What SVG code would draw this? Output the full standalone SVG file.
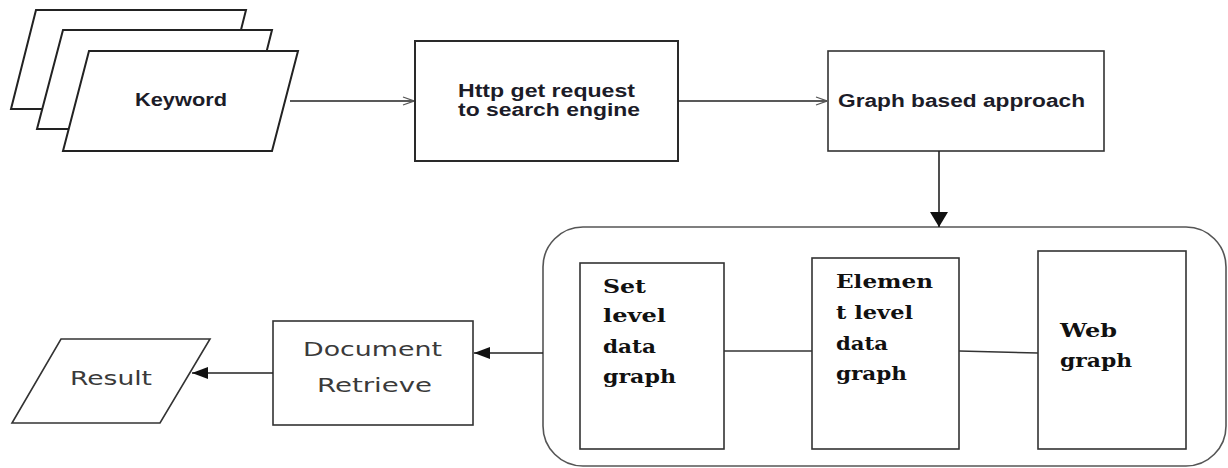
<svg xmlns="http://www.w3.org/2000/svg" width="1228" height="468" viewBox="0 0 1228 468">
<style>
.pg{fill:#fff;stroke:#222;stroke-width:2}
.box{fill:#fff;stroke:#2a2a2a;stroke-width:2}
.thin{fill:#fff;stroke:#333;stroke-width:1.6}
.grp{fill:none;stroke:#555;stroke-width:1.6}
.bs{font-family:"Liberation Sans",Arial,sans-serif;font-weight:bold;font-size:17.5px;fill:#1c1c28}
.sf{font-family:"DejaVu Serif",serif;font-weight:bold;font-size:19px;fill:#111}
.ds{font-family:"DejaVu Sans",sans-serif;font-size:19px;fill:#3a3a3a}
.ln{fill:none;stroke:#222;stroke-width:1.6}
.ln2{fill:none;stroke:#333;stroke-width:1.4}
</style>
<defs>
<marker id="open" viewBox="0 0 12 10" refX="12" refY="5" markerWidth="12" markerHeight="10" markerUnits="userSpaceOnUse" orient="auto">
<path d="M1,1 L12,5 L1,9" fill="none" stroke="#555" stroke-width="1.2"/>
</marker>
<marker id="fill" viewBox="0 0 16 12" refX="16" refY="6" markerWidth="16" markerHeight="12" markerUnits="userSpaceOnUse" orient="auto">
<path d="M0,0 L16,6 L0,12 Z" fill="#111"/>
</marker>
<marker id="fillbig" viewBox="0 0 15 18" refX="15" refY="9" markerWidth="15" markerHeight="18" markerUnits="userSpaceOnUse" orient="auto">
<path d="M0,0 L15,9 L0,18 Z" fill="#111"/>
</marker>
</defs>

<g id="keyword">
<polygon class="pg" points="36,10 246,10 221,109 11,109"/>
<polygon class="pg" points="63,30 272,30 247,129 37,129"/>
<polygon class="pg" points="89,51 298,51 272,151 63,151"/>
<text class="bs" x="135" y="106" textLength="92" lengthAdjust="spacingAndGlyphs">Keyword</text>
</g>

<g id="http">
<rect class="box" x="415" y="41" width="263" height="120"/>
<text class="bs" x="458" y="97" textLength="177" lengthAdjust="spacingAndGlyphs" font-size="17.5">Http get request</text>
<text class="bs" x="458" y="116" textLength="182" lengthAdjust="spacingAndGlyphs" font-size="17.5">to search engine</text>
</g>

<g id="graph-approach">
<rect class="thin" x="828" y="51" width="276" height="100"/>
<text class="bs" x="838" y="107" textLength="247" lengthAdjust="spacingAndGlyphs">Graph based approach</text>
</g>

<g id="graph-group">
<rect class="grp" x="543" y="227" width="683" height="239" rx="40" ry="40"/>
</g>

<g id="set-level">
<rect class="thin" x="580" y="263" width="144" height="186"/>
<text class="sf" x="603" y="293" textLength="43" lengthAdjust="spacingAndGlyphs">Set</text>
<text class="sf" x="603" y="322" textLength="63" lengthAdjust="spacingAndGlyphs">level</text>
<text class="sf" x="603" y="353" textLength="53" lengthAdjust="spacingAndGlyphs">data</text>
<text class="sf" x="603" y="383" textLength="73" lengthAdjust="spacingAndGlyphs">graph</text>
</g>

<g id="element-level">
<rect class="thin" x="812" y="258" width="147" height="191"/>
<text class="sf" x="836" y="288" textLength="97" lengthAdjust="spacingAndGlyphs">Elemen</text>
<text class="sf" x="836" y="319" textLength="77" lengthAdjust="spacingAndGlyphs">t level</text>
<text class="sf" x="836" y="350" textLength="52" lengthAdjust="spacingAndGlyphs">data</text>
<text class="sf" x="836" y="380" textLength="71" lengthAdjust="spacingAndGlyphs">graph</text>
</g>

<g id="web-graph">
<rect class="thin" x="1038" y="251" width="148" height="198"/>
<text class="sf" x="1060" y="337" textLength="57" lengthAdjust="spacingAndGlyphs">Web</text>
<text class="sf" x="1060" y="367" textLength="72" lengthAdjust="spacingAndGlyphs">graph</text>
</g>

<g id="document-retrieve">
<rect class="thin" x="273" y="321" width="200" height="104"/>
<text class="ds" x="303" y="356" textLength="139" lengthAdjust="spacingAndGlyphs">Document</text>
<text class="ds" x="317" y="392" textLength="115" lengthAdjust="spacingAndGlyphs">Retrieve</text>
</g>

<g id="result">
<polygon class="thin" points="61,339 210,339 160,423 12,423"/>
<text class="ds" x="70" y="385" textLength="82" lengthAdjust="spacingAndGlyphs">Result</text>
</g>

<g id="connectors">
<line class="ln" x1="290" y1="101" x2="414" y2="101" marker-end="url(#open)"/>
<line class="ln" x1="678" y1="101" x2="827" y2="101" marker-end="url(#open)"/>
<line class="ln" x1="939" y1="151" x2="939" y2="227" marker-end="url(#fillbig)"/>
<line class="ln2" x1="724" y1="351" x2="812" y2="351"/>
<line class="ln2" x1="959" y1="351" x2="1038" y2="353"/>
<line class="ln" x1="543" y1="353" x2="474" y2="353" marker-end="url(#fill)"/>
<line class="ln" x1="273" y1="373" x2="192" y2="373" marker-end="url(#fill)"/>
</g>
</svg>
